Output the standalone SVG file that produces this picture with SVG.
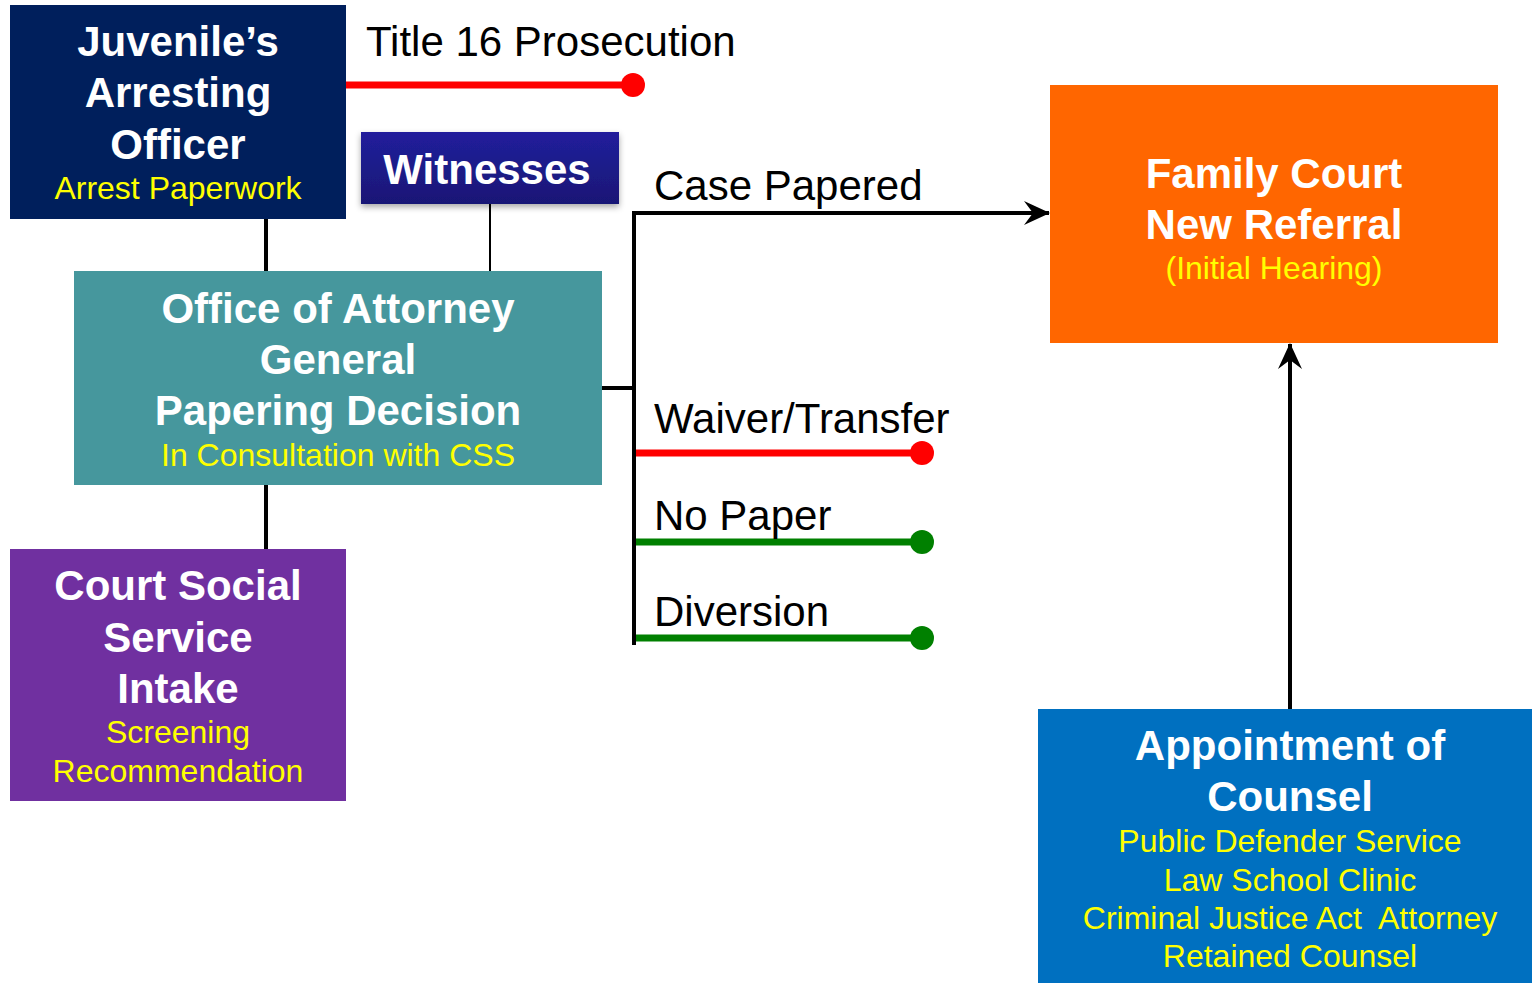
<svg xmlns="http://www.w3.org/2000/svg" width="1532" height="983" viewBox="0 0 1532 983">
<style>
.h{font-family:"Liberation Sans",Arial,sans-serif;font-weight:bold;font-size:42px;fill:#fff;text-anchor:middle}
.s{font-family:"Liberation Sans",Arial,sans-serif;font-size:32px;fill:#ffff00;text-anchor:middle;white-space:pre}
.l{font-family:"Liberation Sans",Arial,sans-serif;font-size:42px;fill:#000}
.k{stroke:#000;stroke-width:4;fill:none}
</style>
<defs>
<linearGradient id="wg" x1="0" y1="0" x2="0" y2="1">
<stop offset="0" stop-color="#211f9c"/>
<stop offset="1" stop-color="#191775"/>
</linearGradient>
<filter id="sh" x="-10%" y="-20%" width="120%" height="150%">
<feDropShadow dx="0" dy="3" stdDeviation="3" flood-color="#000" flood-opacity="0.35"/>
</filter>
<marker id="ar" viewBox="0 0 26 26" refX="25" refY="13" markerWidth="26" markerHeight="26" markerUnits="userSpaceOnUse" orient="auto">
<path d="M0,1 L26,13 L0,25 L9,13 Z" fill="#000"/>
</marker>
</defs>
<g id="connectors">
<line class="k" x1="266" y1="219" x2="266" y2="271"/>
<line x1="490" y1="204" x2="490" y2="271" stroke="#000" stroke-width="2"/>
<line class="k" x1="266" y1="485" x2="266" y2="549"/>
<polyline class="k" points="602,388 634,388"/>
<line class="k" x1="634" y1="211" x2="634" y2="645"/>
<line class="k" x1="632" y1="213" x2="1049" y2="213" marker-end="url(#ar)"/>
<line class="k" x1="1290" y1="709" x2="1290" y2="344" marker-end="url(#ar)"/>
<line x1="346" y1="85" x2="633" y2="85" stroke="#ff0000" stroke-width="7"/>
<circle cx="633" cy="85" r="12" fill="#ff0000"/>
<line x1="636" y1="453" x2="922" y2="453" stroke="#ff0000" stroke-width="7"/>
<circle cx="922" cy="453" r="12" fill="#ff0000"/>
<line x1="636" y1="542" x2="922" y2="542" stroke="#008000" stroke-width="7"/>
<circle cx="922" cy="542" r="12" fill="#008000"/>
<line x1="636" y1="638" x2="922" y2="638" stroke="#008000" stroke-width="7"/>
<circle cx="922" cy="638" r="12" fill="#008000"/>
<text class="l" x="366" y="56">Title 16 Prosecution</text>
<text class="l" x="654" y="200">Case Papered</text>
<text class="l" x="654" y="433">Waiver/Transfer</text>
<text class="l" x="654" y="530">No Paper</text>
<text class="l" x="654" y="626">Diversion</text>
</g>
<g id="juvenile">
<rect x="10" y="5" width="336" height="214" fill="#001f5c"/>
<text class="h" x="178" y="56">Juvenile’s</text>
<text class="h" x="178" y="107">Arresting</text>
<text class="h" x="178" y="159">Officer</text>
<text class="s" x="178" y="199">Arrest Paperwork</text>
</g>
<g id="witnesses">
<rect x="361" y="132" width="258" height="72" fill="url(#wg)" filter="url(#sh)"/>
<text class="h" x="487" y="184">Witnesses</text>
</g>
<g id="oag">
<rect x="74" y="271" width="528" height="214" fill="#46979d"/>
<text class="h" x="338" y="323">Office of Attorney</text>
<text class="h" x="338" y="374">General</text>
<text class="h" x="338" y="425">Papering Decision</text>
<text class="s" x="338" y="466">In Consultation with CSS</text>
</g>
<g id="css">
<rect x="10" y="549" width="336" height="252" fill="#7030a0"/>
<text class="h" x="178" y="600">Court Social</text>
<text class="h" x="178" y="652">Service</text>
<text class="h" x="178" y="703">Intake</text>
<text class="s" x="178" y="743">Screening</text>
<text class="s" x="178" y="782">Recommendation</text>
</g>
<g id="familycourt">
<rect x="1050" y="85" width="448" height="258" fill="#ff6600"/>
<text class="h" x="1274" y="188">Family Court</text>
<text class="h" x="1274" y="239">New Referral</text>
<text class="s" x="1274" y="279">(Initial Hearing)</text>
</g>
<g id="counsel">
<rect x="1038" y="709" width="494" height="274" fill="#0070c0"/>
<text class="h" x="1290" y="760">Appointment of</text>
<text class="h" x="1290" y="811">Counsel</text>
<text class="s" x="1290" y="852">Public Defender Service</text>
<text class="s" x="1290" y="891">Law School Clinic</text>
<text class="s" x="1290" y="929" xml:space="preserve">Criminal Justice Act  Attorney</text>
<text class="s" x="1290" y="967">Retained Counsel</text>
</g>
</svg>
